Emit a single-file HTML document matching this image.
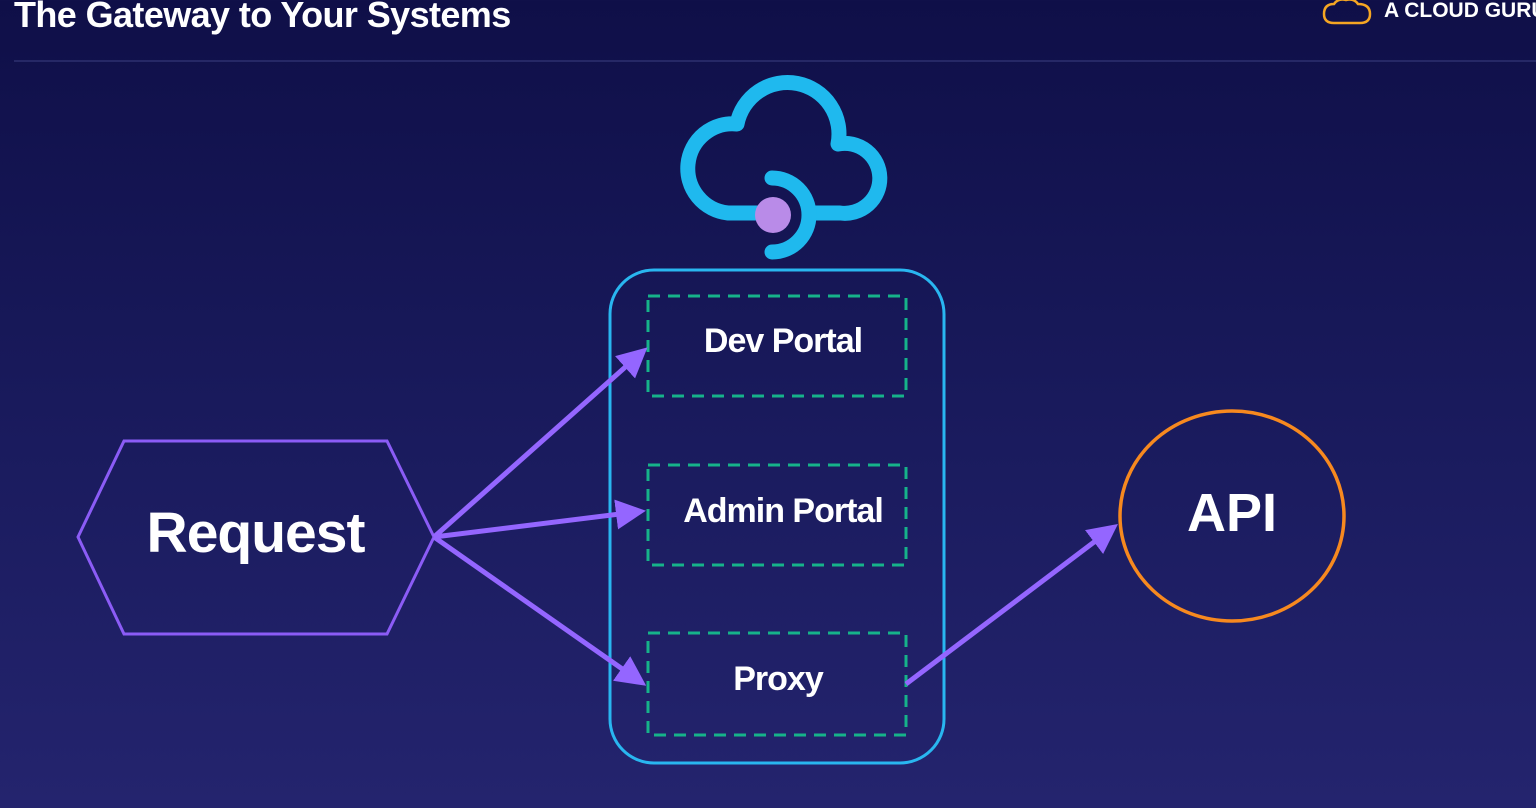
<!DOCTYPE html>
<html><head><style>
html,body{margin:0;padding:0}
body{width:1536px;height:808px;overflow:hidden;background:linear-gradient(180deg,#0f0f48 0%,#191a5c 50%,#24246e 100%);font-family:"Liberation Sans",sans-serif;position:relative}
.t{position:absolute;color:#fff;font-weight:bold;white-space:nowrap}
</style></head><body>
<div class="t" style="left:14px;top:-6px;font-size:36px;letter-spacing:-0.6px">The Gateway to Your Systems</div>
<div class="t" style="left:1384px;top:-1px;font-size:21px">A CLOUD GURU</div>
<div style="position:absolute;left:14px;top:60px;width:1522px;height:2px;background:#262866"></div>
<svg width="1536" height="808" style="position:absolute;left:0;top:0">
<defs><marker id="a" markerWidth="6" markerHeight="6" refX="4" refY="3" orient="auto" markerUnits="strokeWidth"><path d="M0,0 L6,3 L0,6 z" fill="#9466ff"/></marker></defs>
<path d="M1324 14 q0-10 10-10 q4-6 12-4 q8-2 12 4 q12 0 12 10 q0 9-10 9 h-26 q-10 0-10-9z" fill="none" stroke="#f5a623" stroke-width="2.5"/>
<path d="M768 213 H728 A44 44 0 1 1 737 124 A50 50 0 0 1 838 144 A35 35 0 1 1 840 213 H808" fill="none" stroke="#1fb9ee" stroke-width="15" stroke-linejoin="round"/>
<path d="M772 178 A37 37 0 0 1 772 252" fill="none" stroke="#1fb9ee" stroke-width="15" stroke-linecap="round"/>
<circle cx="773" cy="215" r="18" fill="#b98be8"/>
<rect x="610" y="270" width="334" height="493" rx="44" fill="none" stroke="#29b6f0" stroke-width="3"/>
<g fill="none" stroke="#16b38a" stroke-width="3" stroke-dasharray="12 8">
<rect x="648" y="296" width="258" height="100"/>
<rect x="648" y="465" width="258" height="100"/>
<rect x="648" y="633" width="258" height="102"/>
</g>
<polygon points="124,441 387,441 434,537 387,634 124,634 78,537" fill="none" stroke="#8b5cf6" stroke-width="3"/>
<ellipse cx="1232" cy="516" rx="112" ry="105" fill="none" stroke="#f7891f" stroke-width="3.5"/>
<g stroke="#9466ff" stroke-width="5" fill="none" marker-end="url(#a)">
<line x1="434" y1="537" x2="640" y2="354"/>
<line x1="434" y1="537" x2="636" y2="512"/>
<line x1="434" y1="537" x2="638" y2="680"/>
<line x1="906" y1="684" x2="1110" y2="530"/>
</g>
</svg>
<div class="t" style="left:648px;top:322px;width:270px;text-align:center;font-size:34px;letter-spacing:-1px">Dev Portal</div>
<div class="t" style="left:648px;top:492px;width:270px;text-align:center;font-size:34px;letter-spacing:-1px">Admin Portal</div>
<div class="t" style="left:648px;top:660px;width:260px;text-align:center;font-size:34px;letter-spacing:-1px">Proxy</div>
<div class="t" style="left:124px;top:500px;width:263px;text-align:center;font-size:57px;letter-spacing:-1px">Request</div>
<div class="t" style="left:1120px;top:482px;width:224px;text-align:center;font-size:54px">API</div>
</body></html>
